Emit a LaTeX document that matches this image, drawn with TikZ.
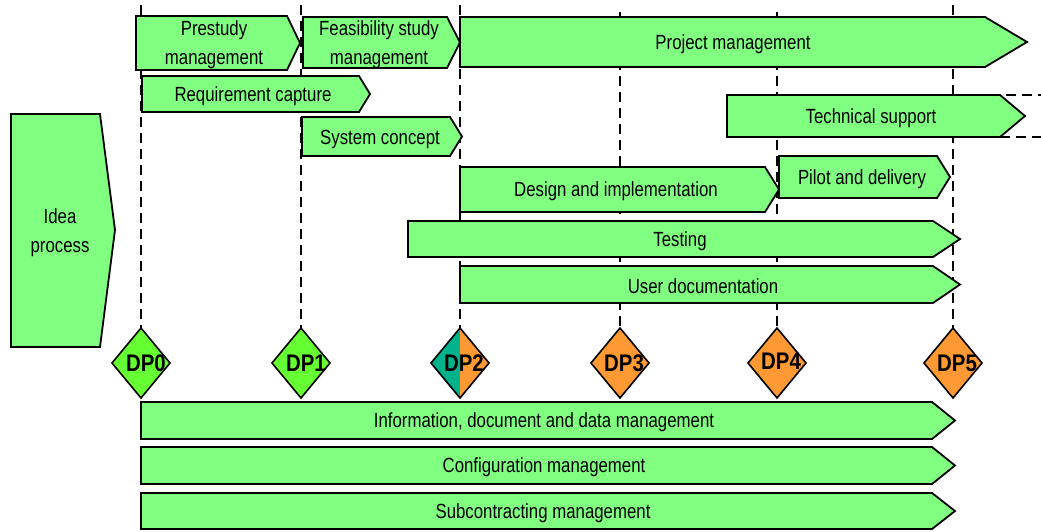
\documentclass[tikz,border=0pt]{standalone}
\usepackage{fontspec}
\setmainfont{Liberation Sans}
\newfontfamily\narrowsans[FakeStretch=0.82]{Liberation Sans}
\newfontfamily\gatesans[FakeStretch=0.85]{Liberation Sans}
\usetikzlibrary{shapes.geometric}

\definecolor{barfill}{RGB}{128,255,128}
\definecolor{gategreen}{RGB}{102,255,51}
\definecolor{gateorange}{RGB}{255,153,51}
\definecolor{gateteal}{RGB}{0,178,140}

\tikzset{
  barshape/.style={draw=black, fill=barfill, line width=1.8pt, line join=miter},
  bartext/.style={font=\narrowsans\fontsize{20.5}{29}\selectfont, align=center, inner sep=0pt},
  gateline/.style={draw=black, line width=2.6pt, dash pattern=on 10pt off 6pt},
  gate/.style={diamond, draw=black, line width=1.6pt, minimum width=58pt,
    minimum height=70pt, inner sep=0pt, outer sep=0pt},
  gatelabel/.style={font=\gatesans\bfseries\fontsize{24}{24}\selectfont, inner sep=0pt},
}

% #1 name, #2 left x, #3 shoulder x, #4 tip x, #5 top y, #6 bottom y,
% #7 text, #8 text x, #9 text y
\newcommand{\procbar}[9]{%
  \draw[barshape] (#2,#5) -- (#3,#5) -- (#4,{(#5+#6)/2}) -- (#3,#6) -- (#2,#6) -- cycle;
  \node[bartext] (#1) at (#8,#9) {#7};}

\begin{document}
\begin{tikzpicture}[x=1pt,y=-1pt]
\path[use as bounding box] (0,0) rectangle (1041,531);

% decision points
\node[gate, fill=gategreen] (dp0) at (141,363) {};
\node[gate, fill=gategreen] (dp1) at (301,363) {};
\node[gate, fill=gateorange,
  path picture={\fill[gateteal] (path picture bounding box.north west)
    rectangle (path picture bounding box.south);}] (dp2) at (460,363) {};
\node[gate, fill=gateorange] (dp3) at (620,363) {};
\node[gate, fill=gateorange] (dp4) at (777,363) {};
\node[gate, fill=gateorange] (dp5) at (953,363) {};

% dashed milestone lines
\coordinate (top0) at (141,5);
\coordinate (top1) at (301,5);
\coordinate (top2) at (460,5);
\coordinate (top3) at (620,12);
\coordinate (top4) at (777,12);
\coordinate (top5) at (953,5);
\foreach \i in {0,...,5}{\draw[gateline] (top\i) -- (dp\i);}

% idea process
\draw[barshape] (11,114) -- (100,114) -- (115,230) -- (100,347) -- (11,347) -- cycle;
\node[bartext] (idea) at (60,233) {Idea\\process};

% activity bars
\procbar{prestudy}{136}{287}{300}{16}{70}{Prestudy\\management}{214}{45}
\procbar{feasibility}{303}{447}{460}{17}{68}{Feasibility study\\management}{379}{45}
\procbar{projmgmt}{460}{985}{1027}{17}{67}{Project management}{733}{44}
\procbar{reqcap}{142}{359}{370}{76}{112}{Requirement capture}{253}{96}
\procbar{syscon}{302}{450}{462}{117}{156}{System concept}{380}{139}
\procbar{techsup}{727}{1000}{1025}{95}{137}{Technical support}{871}{118}
\procbar{design}{460}{765}{779}{167}{212}{Design and implementation}{616}{191}
\procbar{pilot}{779}{937}{950}{156}{198}{Pilot and delivery}{862}{179}
\procbar{testing}{408}{933}{960}{221}{257}{Testing}{680}{241}
\procbar{userdoc}{460}{933}{960}{266}{303}{User documentation}{703}{286}
\procbar{infomgmt}{141}{932}{955}{402}{439}{Information, document and data management}{544}{422}
\procbar{config}{141}{932}{955}{447}{484}{Configuration management}{544}{467}
\procbar{subcon}{141}{932}{955}{493}{529}{Subcontracting management}{543}{513}

% technical support continues beyond the plan
\coordinate (tsa) at (990,95);
\coordinate (tsb) at (1041,95);
\coordinate (tsc) at (1000,137);
\coordinate (tsd) at (1041,137);
\draw[gateline] (tsa) -- (tsb);
\draw[gateline] (tsc) -- (tsd);

% decision point labels
\node[gatelabel] (dp0label) at (146,363) {DP0};
\node[gatelabel] (dp1label) at (306,363) {DP1};
\node[gatelabel] (dp2label) at (464,363) {DP2};
\node[gatelabel] (dp3label) at (624,363) {DP3};
\node[gatelabel] (dp4label) at (781,361) {DP4};
\node[gatelabel] (dp5label) at (957,363) {DP5};
\end{tikzpicture}
\end{document}
